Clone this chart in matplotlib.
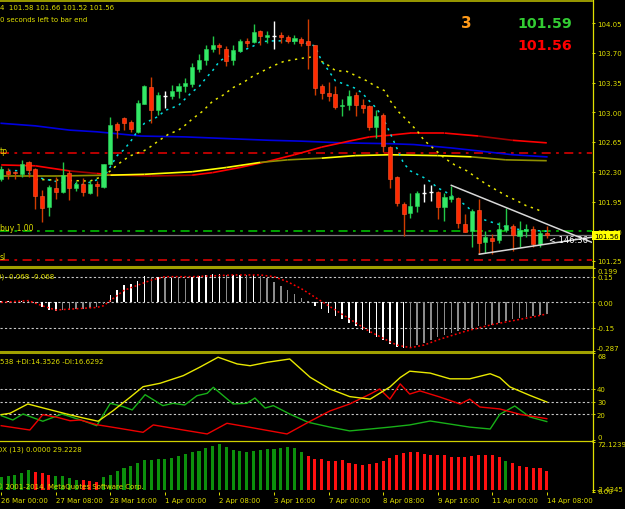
import matplotlib
matplotlib.use("Agg")
import matplotlib.pyplot as plt
from matplotlib.lines import Line2D
from matplotlib.collections import LineCollection
import numpy as np

plt.rcParams['font.family'] = ['DejaVu Sans']

# ---------------- data (USDJPY H4) ----------------
opens = [102.21, 102.31, 102.30, 102.27, 102.41, 102.33, 102.02, 101.88, 102.11, 102.06,
         102.28, 102.11, 102.16, 102.05, 102.15, 102.12, 102.39, 102.86, 102.93, 102.89,
         102.77, 103.10, 103.30, 103.03, 103.19, 103.19, 103.25, 103.31, 103.33, 103.51,
         103.61, 103.74, 103.79, 103.75, 103.61, 103.72, 103.84, 103.83, 103.96, 103.88,
         103.90, 103.91, 103.89, 103.84, 103.86, 103.84, 103.79, 103.31, 103.23, 103.21,
         103.07, 103.09, 103.20, 103.09, 103.07, 102.83, 102.97, 102.59, 102.24, 101.92,
         101.82, 101.90, 102.05, 102.06, 102.06, 101.89, 101.98, 101.99, 101.69, 101.60,
         101.85, 101.47, 101.52, 101.50, 101.62, 101.66, 101.54, 101.60, 101.63, 101.45,
         101.58]
highs = [102.37, 102.34, 102.31, 102.44, 102.43, 102.34, 102.08, 102.15, 102.24, 102.41,
         102.32, 102.19, 102.23, 102.20, 102.19, 102.39, 102.95, 102.88, 102.95, 102.91,
         103.15, 103.32, 103.41, 103.24, 103.25, 103.32, 103.34, 103.40, 103.58, 103.68,
         103.79, 103.90, 103.82, 103.78, 103.79, 103.86, 103.87, 104.04, 103.97, 103.96,
         104.07, 103.94, 103.91, 103.91, 103.88, 104.10, 103.79, 103.33, 103.36, 103.31,
         103.16, 103.26, 103.24, 103.16, 103.08, 103.03, 102.99, 102.60, 102.25, 101.95,
         102.05, 102.07, 102.16, 102.15, 102.07, 102.05, 102.13, 102.00, 101.80, 101.86,
         101.98, 101.60, 101.57, 101.71, 101.87, 101.69, 101.72, 101.69, 101.66, 101.61,
         101.66]
lows = [102.19, 102.21, 102.22, 102.24, 102.24, 101.86, 101.71, 101.78, 101.98, 102.05,
        101.97, 102.07, 102.01, 102.04, 102.02, 102.11, 102.38, 102.70, 102.79, 102.77,
        102.76, 103.10, 102.87, 102.97, 103.05, 103.16, 103.17, 103.24, 103.30, 103.47,
        103.56, 103.71, 103.68, 103.55, 103.56, 103.71, 103.77, 103.82, 103.79, 103.82,
        103.75, 103.82, 103.82, 103.80, 103.78, 103.51, 103.20, 103.16, 103.13, 103.04,
        102.96, 103.03, 102.96, 102.99, 102.79, 102.70, 102.53, 102.11, 101.90, 101.55,
        101.76, 101.83, 101.94, 101.96, 101.74, 101.72, 101.94, 101.64, 101.59, 101.42,
        101.33, 101.35, 101.33, 101.46, 101.59, 101.37, 101.41, 101.53, 101.42, 101.42,
        101.52]
closes = [102.33, 102.27, 102.28, 102.39, 102.32, 102.02, 101.87, 102.12, 102.06, 102.26,
          102.11, 102.16, 102.06, 102.16, 102.13, 102.39, 102.85, 102.79, 102.87, 102.80,
          103.11, 103.31, 103.03, 103.20, 103.19, 103.25, 103.31, 103.35, 103.53, 103.61,
          103.75, 103.79, 103.77, 103.60, 103.73, 103.84, 103.82, 103.95, 103.90, 103.91,
          103.90, 103.88, 103.84, 103.87, 103.82, 103.79, 103.29, 103.23, 103.19, 103.06,
          103.09, 103.19, 103.09, 103.05, 102.83, 102.96, 102.60, 102.22, 101.93, 101.80,
          101.90, 102.05, 102.05, 102.06, 101.89, 102.00, 102.01, 101.70, 101.59, 101.84,
          101.46, 101.53, 101.49, 101.63, 101.67, 101.56, 101.61, 101.63, 101.45, 101.58,
          101.56]

date_ticks = [0, 8, 16, 24, 32, 40, 48, 56, 64, 72, 80]
date_labels = ['26 Mar 00:00', '27 Mar 08:00', '28 Mar 16:00', '1 Apr 00:00', '2 Apr 08:00',
               '3 Apr 16:00', '7 Apr 00:00', '8 Apr 08:00', '9 Apr 16:00', '11 Apr 00:00',
               '14 Apr 08:00']
price_ticks = [104.05, 103.70, 103.35, 103.00, 102.65, 102.30, 101.95, 101.60, 101.25]

# moving averages on the price window (bar index, price)
fast_ma_x = [0, 3, 6, 9, 12, 15, 17, 18, 19, 20, 21, 23, 24, 26, 27, 28, 29, 30, 31, 32,
             33, 35, 37, 38, 40, 42, 44, 46, 47, 48, 49, 51, 52, 53, 54, 55, 56, 57, 58, 59,
             60, 62, 63, 64, 65, 67, 68, 69, 70, 71, 73, 74, 76, 78, 80]
fast_ma = [102.32, 102.31, 102.22, 102.17, 102.15, 102.23, 102.49, 102.56, 102.66, 102.78,
           102.87, 102.95, 103.02, 103.08, 103.16, 103.24, 103.30, 103.40, 103.49, 103.60,
           103.65, 103.71, 103.78, 103.83, 103.84, 103.84, 103.83, 103.78, 103.60, 103.49,
           103.37, 103.31, 103.28, 103.22, 103.13, 103.05, 102.93, 102.76, 102.58, 102.40,
           102.31, 102.23, 102.18, 102.11, 102.07, 101.97, 101.91, 101.84, 101.77, 101.73,
           101.68, 101.65, 101.62, 101.61, 101.60]
slow_ma_x = [5, 9, 13, 15, 16, 17, 18, 19, 21, 22, 23, 24.5, 26, 27, 28, 29.5, 31, 32.5, 34,
             35.5, 37, 38.5, 40, 41.5, 43, 44.5, 45.5, 46.7, 48, 49, 50.7, 52, 53.6, 54.8,
             56.3, 57, 58.2, 59.7, 61, 62, 63.6, 65, 66.5, 68.3, 69.7, 71.2, 72.7, 74, 75.6,
             77, 78.5, 79.5]
slow_ma = [102.21, 102.20, 102.19, 102.25, 102.31, 102.38, 102.44, 102.49, 102.55, 102.60,
           102.66, 102.74, 102.79, 102.85, 102.92, 103.01, 103.13, 103.20, 103.29, 103.35,
           103.43, 103.49, 103.55, 103.60, 103.62, 103.64, 103.65, 103.61, 103.55, 103.49,
           103.48, 103.43, 103.37, 103.31, 103.25, 103.14, 103.01, 102.89, 102.78, 102.67,
           102.56, 102.46, 102.38, 102.31, 102.23, 102.15, 102.08, 102.02, 101.96, 101.90,
           101.86, 101.82]
blue_ma_x = [0, 5, 10, 14, 16, 20.5, 27, 39.4, 44, 50, 57, 60.5, 66, 70, 75, 80]
blue_ma = [102.87, 102.84, 102.79, 102.77, 102.755, 102.72, 102.71, 102.67, 102.66, 102.64,
           102.63, 102.62, 102.58, 102.545, 102.50, 102.475]
red_ma_x = [0, 5, 10, 14, 16, 22, 28, 31, 35, 39, 43, 47, 51, 54, 57, 60, 65, 70, 75, 80]
red_ma = [102.38, 102.37, 102.31, 102.28, 102.265, 102.25, 102.26, 102.29, 102.35, 102.42,
          102.50, 102.59, 102.66, 102.71, 102.73, 102.755, 102.755, 102.72, 102.67, 102.64]
red_ma_dark = [0, 0, 1, 0, 1, 1, 0, 0, 0, 0, 0, 0, 0, 0, 0, 0, 0, 1, 0]
yel_ma_x = [0, 8, 16, 21, 28, 33, 38, 42, 47, 52, 57, 64, 69, 74, 80]
yel_ma = [102.25, 102.25, 102.26, 102.27, 102.30, 102.35, 102.41, 102.44, 102.46, 102.49,
          102.50, 102.49, 102.475, 102.44, 102.43]
yel_ma_dark = [1, 1, 0, 0, 0, 0, 1, 1, 0, 0, 0, 0, 1, 1]

tp_level = 102.52
buy_level = 101.60
sl_level = 101.26
bid = 101.56

tri_up_x = [66.0, 86.6]
tri_up = [102.14, 101.47]
tri_lo_x = [70.1, 86.6]
tri_lo = [101.33, 101.53]

# MACD window
macd_hist = [0.005, 0.006, 0.004, 0.008, 0.006,
             -0.012, -0.03, -0.045, -0.048, -0.045, -0.042, -0.04, -0.038, -0.035, -0.03, -0.01,
             0.043, 0.072, 0.10, 0.107, 0.126, 0.155, 0.146, 0.146, 0.142, 0.142,
             0.14, 0.136, 0.146, 0.155, 0.16, 0.165, 0.165, 0.16, 0.16, 0.16,
             0.158, 0.16, 0.155, 0.14, 0.12, 0.095, 0.075, 0.05, 0.025, 0.005,
             -0.02, -0.04, -0.06, -0.08, -0.10, -0.12, -0.14, -0.16, -0.18, -0.20,
             -0.22, -0.245, -0.26, -0.265, -0.26, -0.25, -0.235, -0.22, -0.205, -0.19,
             -0.18, -0.17, -0.16, -0.15, -0.14, -0.135, -0.13, -0.12, -0.11, -0.10,
             -0.09, -0.085, -0.08, -0.072, -0.068]
macd_sig_x = [0, 4, 6, 8, 10, 14, 15, 16, 17, 18, 20, 22, 24, 28, 34, 38, 40, 42, 44, 46,
              48, 50, 52, 54, 56, 58, 60, 62, 64, 66, 68, 70, 72, 74, 76, 78, 80]
macd_sig = [0, 0.01, -0.02, -0.045, -0.04, -0.03, -0.02, 0.01, 0.04, 0.07,
            0.10, 0.13, 0.15, 0.15, 0.16, 0.16, 0.15, 0.12, 0.08, 0.03,
            -0.02, -0.07, -0.12, -0.17, -0.21, -0.25, -0.265, -0.25, -0.22, -0.195,
            -0.17, -0.15, -0.13, -0.115, -0.10, -0.085, -0.068]

# ADX window
adx_x = [0, 1.3, 3.9, 6.7, 9.6, 12, 14.2, 16.4, 18.9, 20.8, 23.3, 26.7, 29.1, 31.8, 34.6,
         36.5, 39, 42.3, 45.3, 48.2, 51.1, 54.1, 57, 58.5, 59.9, 62.9, 65.8, 68.7, 71.7,
         73.1, 74.6, 77.5, 80]
adx = [19.8, 20.9, 28.2, 24.3, 20.3, 17.2, 14.6, 22.9, 33.5, 41.8, 44.5, 50.5, 57.1, 65,
       59.7, 58.3, 61, 63.6, 49.2, 40, 34, 32, 41.6, 49, 54, 52.5, 48, 48, 52, 49, 41.6,
       35, 29.75]
pdi_x = [0, 1.7, 3.2, 6.1, 8.9, 12, 14, 16, 17.9, 19.2, 21.1, 23.7, 25.2, 26.9, 28.7, 30.2,
         31.1, 34, 36, 37.2, 38.7, 39.9, 42.3, 45, 48.2, 51.1, 54.1, 57, 59.9, 62.9, 65.8,
         68.7, 71.7, 73.1, 75.3, 77.5, 80]
pdi = [19, 15.6, 20.3, 14.6, 20.3, 15, 11.1, 28.7, 26.1, 23.5, 35.5, 26.9, 28.7, 27.4, 34.7,
       36.6, 41.3, 28.2, 28.7, 32.9, 25, 26.9, 20.3, 13.8, 10, 7, 8.5, 10, 11.7, 14.8, 12.4,
       10, 8.5, 20, 26.6, 18, 14.35]
mdi_x = [0, 4.2, 6.1, 8.2, 10.1, 11.6, 14, 17, 20.8, 22.3, 26.7, 30.2, 33.1, 36.5, 41.9,
         45.3, 48.2, 51.1, 54.1, 55.5, 57, 58.5, 59.9, 61.4, 64.3, 67.3, 68.7, 70.2, 73.1,
         76.1, 80]
mdi = [11.1, 7.7, 19.8, 17.7, 15, 15.6, 11.9, 9.3, 5.9, 11.7, 7.7, 4.6, 13, 9.8, 4.6, 14.6,
       22.7, 28.2, 36, 40, 32, 44, 36, 38.5, 33.7, 28.2, 32, 25.8, 24.3, 20, 16.63]

# DX histogram window
dx_hist = [19.7, 21.2, 22.1, 25.4, 30.1, 26.8, 25.4, 23.0, 21.2, 21.2,
           18.3, 15.0, 15.0, 13.6, 11.8, 19.7, 23.0, 28.2, 32.4, 36.2,
           40.9, 44.2, 44.2, 45.6, 47.0, 48.4, 51.2, 53.1, 56.4, 58.8,
           62.5, 65.3, 67.7, 64.4, 59.7, 58.3, 57.3, 58.3, 59.7, 60.6,
           61.1, 62.5, 63.5, 62.0, 55.9, 50.3, 46.5, 45.6, 43.2, 43.7,
           44.2, 40.0, 38.5, 37.6, 38.5, 40.0, 43.2, 47.9, 51.7, 55.0,
           56.4, 56.4, 54.1, 51.7, 51.7, 51.7, 48.9, 48.9, 49.4, 50.3,
           51.7, 51.7, 52.6, 49.4, 43.2, 40.0, 36.2, 33.8, 32.9, 32.9, 29.22]
dx_green = [1] * 5 + [0] * 3 + [1] * 4 + [0] * 3 + [1] * 30 + [0] * 29 + [1] + [0] * 6

# ---------------- layout ----------------
W, H = 625, 510
AX_R = 592            # right edge of the plot area, px
XL, XR = -0.18, 86.63  # bar-index range shown
TXT = '#e0e000'
FS = 5

fig = plt.figure(figsize=(W / 100, H / 100), dpi=100, facecolor='black')


def panel(top, bottom):
    ax = fig.add_axes([0, 1 - bottom / H, AX_R / W, (bottom - top) / H])
    ax.set_facecolor('black')
    ax.set_xlim(XL, XR)
    for s in ax.spines.values():
        s.set_visible(False)
    ax.yaxis.tick_right()
    ax.tick_params(axis='y', colors=TXT, labelsize=FS, length=2.2, width=0.7, pad=1.4)
    ax.tick_params(axis='x', bottom=False, labelbottom=False)
    return ax


def two_tone(ax, xs, ys, flags, c0, c1, lw):
    pts = np.column_stack([xs, ys])
    segs = np.stack([pts[:-1], pts[1:]], axis=1)
    cols = [c1 if f else c0 for f in flags]
    ax.add_collection(LineCollection(segs, colors=cols, linewidths=lw, zorder=2))


def fig_line(xs, ys, color, lw):
    fig.add_artist(Line2D([x / W for x in xs], [1 - y / H for y in ys], color=color, lw=lw))


# ---- main price window ----
ax = panel(2, 267)
ax.set_ylim(104.05 - 243 / 85, 104.05 + 22 / 85)
ax.set_yticks(price_ticks)
ax.set_yticklabels([f"{p:.2f}" for p in price_ticks])

ax.axhline(bid, color='#7a7a7a', lw=0.9, zorder=1)
ax.axhline(tp_level, color='#c80000', lw=1.3, dashes=(5, 3, 1.5, 3), zorder=1)
ax.axhline(sl_level, color='#c80000', lw=1.3, dashes=(5, 3, 1.5, 3), zorder=1)
ax.axhline(buy_level, color='#00b000', lw=1.3, dashes=(5, 3, 1.5, 3), zorder=1)

ax.plot(blue_ma_x, blue_ma, color='#0000e0', lw=1.2, zorder=2)
two_tone(ax, red_ma_x, red_ma, red_ma_dark, '#ff0000', '#a00000', 1.2)
two_tone(ax, yel_ma_x, yel_ma, yel_ma_dark, '#ffff00', '#909000', 1.2)
ax.plot(slow_ma_x, slow_ma, color='#e6e600', lw=1.1, dashes=(1.5, 3), zorder=2)
ax.plot(fast_ma_x, fast_ma, color='#00dede', lw=1.1, dashes=(1.5, 3), zorder=2)

x = np.arange(len(opens))
o, h, l, c = map(np.array, (opens, highs, lows, closes))
up = c > o
dn = c < o
dj = c == o
ax.vlines(x[up], l[up], h[up], color='#22c848', lw=1, zorder=3)
ax.vlines(x[dn], l[dn], h[dn], color='#d03c00', lw=1, zorder=3)
ax.vlines(x[dj], l[dj], h[dj], color='white', lw=1, zorder=3)
ax.bar(x[up], np.maximum(c[up] - o[up], 0.012), bottom=o[up], width=0.6,
       color='#33e866', edgecolor='#2ad458', lw=0.4, zorder=4)
ax.bar(x[dn], np.maximum(o[dn] - c[dn], 0.012), bottom=c[dn], width=0.6,
       color='#ff2a00', edgecolor='#ff5a30', lw=0.4, zorder=4)
ax.hlines(c[dj], x[dj] - 0.3, x[dj] + 0.3, color='white', lw=1, zorder=4)

ax.plot(tri_up_x, tri_up, color='#d8d8d8', lw=1.1, zorder=5)
ax.plot(tri_lo_x, tri_lo, color='#d8d8d8', lw=1.1, zorder=5)
ax.text(80.3, 101.50, '< 146:36', color='white', fontsize=6, va='center', ha='left',
        zorder=6, clip_on=True)

# ---- MACD window ----
am = panel(269.3, 352.4)
am.set_ylim(-0.287, 0.199)
for lev in (0.15, 0.0, -0.15):
    am.axhline(lev, color='#c8c8c8', lw=0.8, dashes=(2, 2), zorder=1)
mh = np.array(macd_hist)
prev = np.concatenate([[0], mh[:-1]])
mcol = ['white' if abs(v) >= abs(p) else '#8c8c8c' for v, p in zip(mh, prev)]
am.bar(x, mh, width=0.22, color=mcol, zorder=2)
am.plot(macd_sig_x, macd_sig, color='#ff0000', lw=1.1, dashes=(1.2, 1.6), zorder=3)
am.set_yticks([0.199, 0.15, 0.0, -0.15, -0.287])
am.set_yticklabels(['0.199', '0.15', '0.00', '-0.15', '-0.287'])

# ---- ADX window ----
aa = panel(354.4, 440.8)
aa.set_ylim(0, 68)
for lev in (40, 30, 20):
    aa.axhline(lev, color='#c8c8c8', lw=0.8, dashes=(2, 2), zorder=1)
aa.plot(adx_x, adx, color='#e8e800', lw=1.0, zorder=3)
aa.plot(pdi_x, pdi, color='#18b018', lw=1.0, zorder=2)
aa.plot(mdi_x, mdi, color='#ee0000', lw=1.0, zorder=2)
aa.set_yticks([68, 40, 30, 20, 0])
aa.set_yticklabels(['68', '40', '30', '20', '0'])

# ---- DX histogram window ----
ah = panel(442.5, 493)
ah.set_ylim(-2.4345, 72.1239)
ah.bar(x, dx_hist, width=0.45, color=['#0c900c' if g else '#ff1010' for g in dx_green],
       zorder=2)
ah.set_yticks([72.1239, 0.0, -2.4345])
ah.set_yticklabels(['72.1239', '0.00', '-2.4345'])
ah.set_xticks(date_ticks)
ah.set_xticklabels(date_labels)
ah.tick_params(axis='x', bottom=True, labelbottom=True, colors=TXT, labelsize=FS,
               length=2.5, width=0.7, pad=0.8)
for t in ah.get_xticklabels():
    t.set_ha('left')

for a in (am, aa, ah):
    labs = a.get_yticklabels()
    labs[0].set_va('top')
    labs[-1].set_va('bottom')

# ---- frame lines ----
fig_line([0, AX_R], [1.5, 1.5], '#b4b400', 1.2)
fig_line([0, AX_R], [268.2, 268.2], '#a0a000', 2.2)
fig_line([0, AX_R], [353.3, 353.3], '#a0a000', 2.2)
fig_line([0, AX_R], [441.6, 441.6], '#d0d000', 0.9)
fig_line([AX_R + 0.5, AX_R + 0.5], [1, 493], '#e0e000', 0.9)

# ---- texts ----
fig.text(0, 1 - 8.5 / H, '4  101.58 101.66 101.52 101.56', color=TXT, fontsize=FS, va='center')
fig.text(0, 1 - 20 / H, '0 seconds left to bar end', color=TXT, fontsize=FS, va='center')
fig.text(466 / W, 1 - 24 / H, '3', color='#ff9a1a', fontsize=11, fontweight='bold',
         ha='center', va='center')
fig.text(545 / W, 1 - 24.5 / H, '101.59', color='#33cc33', fontsize=10.3, fontweight='bold',
         ha='center', va='center')
fig.text(545 / W, 1 - 45.5 / H, '101.56', color='#ff0000', fontsize=10.3, fontweight='bold',
         ha='center', va='center')
fig.text(0, 1 - 151 / H, 'tp', color=TXT, fontsize=FS + 0.5, va='center')
fig.text(0, 1 - 229 / H, 'buy 1.00', color=TXT, fontsize=FS + 0.5, va='center')
fig.text(0, 1 - 257.5 / H, 'sl', color=TXT, fontsize=FS + 0.5, va='center')
fig.text(-3 / W, 1 - 277 / H, '0) -0.068 -0.068', color=TXT, fontsize=FS, va='center')
fig.text(0, 1 - 362 / H, '538 +DI:14.3526 -DI:16.6292', color=TXT, fontsize=FS, va='center')
fig.text(-3 / W, 1 - 450 / H, 'DX (13) 0.0000 29.2228', color=TXT, fontsize=FS, va='center')
fig.text(-4 / W, 1 - 487 / H, '\u00a9 2001-2014, MetaQuotes Software Corp.', color=TXT,
         fontsize=FS, va='center')
fig.text(594 / W, 1 - 236.7 / H, '101.56', color='black', fontsize=FS, va='center', ha='left',
         bbox=dict(boxstyle='square,pad=0.25', fc='#ffff00', ec='none'), zorder=10)

fig.savefig('out.png', dpi=100, facecolor='black')
